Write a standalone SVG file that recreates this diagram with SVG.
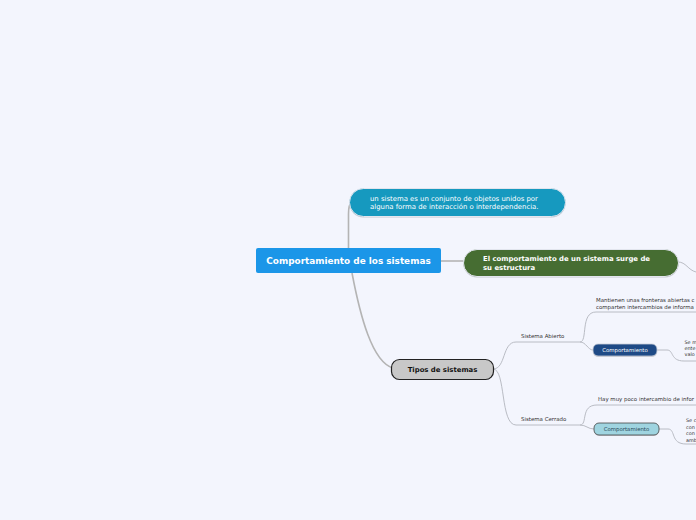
<svg xmlns="http://www.w3.org/2000/svg" width="696" height="520" viewBox="0 0 696 520">
<style>
text{font-family:"DejaVu Sans","Verdana",sans-serif}
.c{fill:none;stroke:#b9bcc4;stroke-width:1}
.cm{fill:none;stroke:#b4b4b4;stroke-width:1.6}
.s{font-size:5.45px;fill:#333}
.e{font-size:4.9px;fill:#333}
.w{fill:#fff}
.sh{fill:#9a9ca4;opacity:0.5}
</style>
<rect width="696" height="520" fill="#f3f5fd"/>
<g id="connectors">
<path class="cm" d="M348.5,248 V214 Q348.5,204 352,202"/>
<path class="cm" d="M441,261 H463"/>
<path class="cm" d="M352,273 C360,315 372,362 393,368"/>
<path class="c" d="M678,262 C686,262 688,270 696,272"/>
<path class="c" d="M493,369 C506,369 502,342 516,342 H580"/>
<path class="c" d="M580,342 C588,342 580,312 596,312 H696"/>
<path class="c" d="M580,342 C586,342 588,350 593,350"/>
<path class="c" d="M657,350 H667 C674,350 670,361 684,361 H696"/>
<path class="c" d="M493,369 C506,369 500,425 516,425 H580"/>
<path class="c" d="M580,425 C588,425 580,405 597,405 H696"/>
<path class="c" d="M580,425 C586,425 588,429 594,429"/>
<path class="c" d="M659,429 H668 C676,429 670,444 686,444 H696"/>
</g>
<g id="central">
<rect x="256" y="248" width="185" height="25" rx="2" fill="#1b96e8"/>
<text x="348.5" y="264" font-size="8.9" font-weight="bold" class="w" text-anchor="middle">Comportamiento de los sistemas</text>
</g>
<g id="definicion">
<rect x="349.5" y="189.5" width="216" height="28" rx="14" class="sh"/>
<rect x="349.5" y="188.5" width="216" height="28" rx="14" fill="#1699bf" stroke="#e2e5ee" stroke-width="1"/>
<text x="370" y="201" font-size="6.9" class="w">un sistema es un conjunto de objetos unidos por</text>
<text x="370" y="209" font-size="6.9" class="w">alguna forma de interacción o interdependencia.</text>
</g>
<g id="estructura">
<rect x="463.5" y="250.5" width="215" height="27" rx="13.5" class="sh"/>
<rect x="463.5" y="249.5" width="215" height="27" rx="13.5" fill="#466d32" stroke="#e2e5ee" stroke-width="1"/>
<text x="483" y="261" font-size="6.9" font-weight="bold" class="w">El comportamiento de un sistema surge de</text>
<text x="483" y="270" font-size="6.9" font-weight="bold" class="w">su estructura</text>
</g>
<g id="tipos">
<rect x="391.5" y="359.5" width="102" height="20" rx="8" fill="#c8c8c8" stroke="#222" stroke-width="1.2"/>
<text x="442.5" y="372" font-size="6.9" font-weight="bold" fill="#111" text-anchor="middle">Tipos de sistemas</text>
</g>
<g id="abierto">
<text x="521" y="338" class="s">Sistema Abierto</text>
</g>
<g id="abierto-def">
<text x="596" y="302" class="s">Mantienen unas fronteras abiertas c</text>
<text x="596" y="308.5" class="s">comparten intercambios de informa</text>
</g>
<g id="abierto-comp">
<rect x="593" y="345" width="64" height="12" rx="5" class="sh"/>
<rect x="593" y="344" width="64" height="12" rx="5" fill="#1e4a86" stroke="#c9ced8" stroke-width="0.8"/>
<text x="625" y="352" font-size="5.4" class="w" text-anchor="middle">Comportamiento</text>
</g>
<g id="abierto-comp-def">
<text x="684.5" y="344" class="e">Se m</text>
<text x="684.5" y="350" class="e">ente</text>
<text x="684.5" y="356" class="e">valo</text>
</g>
<g id="cerrado">
<text x="521" y="421" class="s">Sistema Cerrado</text>
</g>
<g id="cerrado-def">
<text x="598" y="401" class="s">Hay muy poco intercambio de infor</text>
</g>
<g id="cerrado-comp">
<rect x="594" y="424" width="65" height="12" rx="5" class="sh"/>
<rect x="594" y="423" width="65" height="12" rx="5" fill="#9fd4e0" stroke="#444" stroke-width="0.8"/>
<text x="626.5" y="431" font-size="5.4" fill="#2a4a5a" text-anchor="middle">Comportamiento</text>
</g>
<g id="cerrado-comp-def">
<text x="686" y="422" class="e">Se c</text>
<text x="686" y="428.5" class="e">con</text>
<text x="686" y="435" class="e">con</text>
<text x="686" y="441.5" class="e">amb</text>
</g>
</svg>
